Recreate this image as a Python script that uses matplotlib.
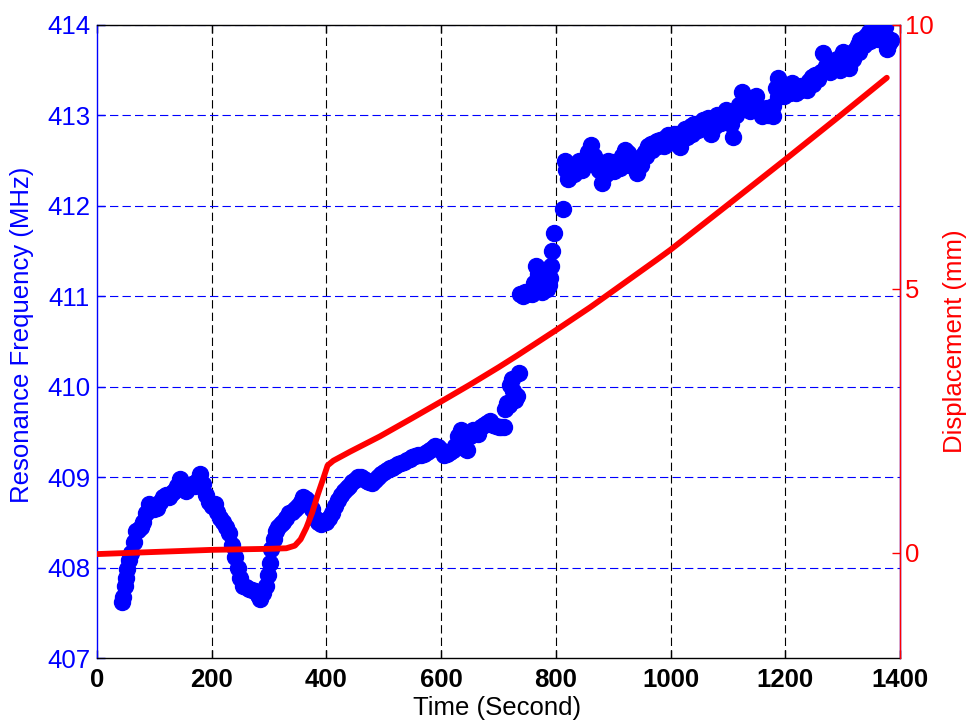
import matplotlib
matplotlib.use("Agg")
import matplotlib.pyplot as plt

plt.rcParams['font.family'] = ['Liberation Sans', 'DejaVu Sans']
plt.rcParams['lines.scale_dashes'] = False

# ---- Data ----
freq_time = [43, 45, 48, 50, 53, 56, 60, 64, 68, 72, 76, 80, 85, 90, 95, 100, 105, 110, 115, 120,
             125, 130, 135, 140, 145, 150, 155, 160, 165, 170, 175, 180, 185, 190, 195, 200, 205,
             210, 215, 220, 225, 230, 235, 240, 245, 250, 255, 260, 265, 270, 275, 280, 285, 290,
             295, 298, 301, 304, 308, 312, 316, 320, 325, 330, 335, 340, 345, 350, 355, 360, 365,
             370, 375, 380, 385, 390, 395, 400, 405, 410, 415, 420, 425, 430, 435, 440, 445, 450,
             455, 460, 465, 470, 475, 480, 485, 490, 495, 500, 505, 510, 515, 520, 525, 530, 535,
             540, 545, 550, 555, 560, 565, 570, 575, 580, 585, 590, 595, 600, 605, 610, 615, 620,
             625, 630, 635, 640, 645, 650, 655, 660, 665, 670, 675, 680, 685, 690, 695, 700, 705,
             710, 712, 715, 718, 720, 723, 726, 729, 732, 735, 738, 742, 746, 750, 754, 758, 762,
             765, 768, 772, 776, 780, 784, 788, 790, 792, 794, 796, 812, 816, 821, 826, 831, 836,
             841, 846, 851, 856, 861, 866, 871, 876, 881, 886, 891, 896, 901, 906, 911, 916, 921,
             926, 931, 936, 941, 946, 951, 956, 961, 966, 971, 976, 981, 986, 991, 996, 1001, 1006,
             1011, 1016, 1021, 1026, 1031, 1036, 1041, 1046, 1051, 1056, 1061, 1066, 1071, 1076,
             1081, 1086, 1091, 1096, 1101, 1106, 1109, 1114, 1119, 1124, 1129, 1134, 1139, 1144,
             1149, 1154, 1159, 1164, 1169, 1174, 1179, 1184, 1187, 1192, 1197, 1202, 1207, 1212,
             1217, 1222, 1227, 1232, 1237, 1242, 1247, 1252, 1257, 1262, 1266, 1271, 1276, 1281,
             1286, 1291, 1296, 1301, 1306, 1311, 1316, 1321, 1326, 1331, 1336, 1341, 1346, 1351,
             1356, 1361, 1366, 1371, 1374, 1377, 1381, 1385]

freq_mhz = [407.62, 407.68, 407.80, 407.88, 407.98, 408.08, 408.16, 408.28, 408.40, 408.42,
            408.45, 408.50, 408.60, 408.70, 408.68, 408.65, 408.66, 408.72, 408.78, 408.80,
            408.78, 408.82, 408.85, 408.90, 408.98, 408.88, 408.85, 408.90, 408.92, 408.90,
            408.96, 409.04, 408.92, 408.80, 408.72, 408.68, 408.70, 408.62, 408.55, 408.50,
            408.45, 408.38, 408.25, 408.12, 408.00, 407.88, 407.80, 407.78, 407.76, 407.75,
            407.74, 407.70, 407.65, 407.72, 407.80, 407.92, 408.05, 408.20, 408.32, 408.40,
            408.45, 408.48, 408.50, 408.55, 408.60, 408.62, 408.65, 408.68, 408.72, 408.78,
            408.76, 408.72, 408.65, 408.55, 408.50, 408.48, 408.52, 408.50, 408.55, 408.60,
            408.68, 408.75, 408.80, 408.85, 408.88, 408.90, 408.95, 408.97, 409.00, 409.00,
            408.98, 408.96, 408.95, 408.93, 408.97, 409.00, 409.03, 409.06, 409.08, 409.10,
            409.10, 409.12, 409.14, 409.16, 409.17, 409.19, 409.20, 409.22, 409.23, 409.24,
            409.25, 409.26, 409.28, 409.30, 409.32, 409.34, 409.33, 409.30, 409.24, 409.26,
            409.28, 409.30, 409.34, 409.45, 409.52, 409.32, 409.30, 409.45, 409.52, 409.50,
            409.48, 409.55, 409.58, 409.60, 409.62, 409.58, 409.57, 409.55, 409.56, 409.56,
            409.75, 409.82, 409.80, 410.02, 410.08, 409.95, 409.85, 409.90, 410.15, 411.03,
            411.00, 411.05, 411.02, 411.05, 411.03, 411.15, 411.33, 411.25, 411.10, 411.05,
            411.10, 411.08, 411.12, 411.20, 411.33, 411.50, 411.70, 411.97, 412.50, 412.30,
            412.42, 412.35, 412.45, 412.50, 412.40, 412.48, 412.60, 412.67, 412.55, 412.48,
            412.40, 412.25, 412.45, 412.50, 412.42, 412.38, 412.45, 412.42, 412.55, 412.62,
            412.58, 412.52, 412.45, 412.36, 412.50, 412.55, 412.60, 412.66, 412.68, 412.70,
            412.72, 412.73, 412.70, 412.75, 412.78, 412.76, 412.80, 412.80, 412.65, 412.78,
            412.85, 412.82, 412.88, 412.91, 412.86, 412.92, 412.95, 412.90, 412.97, 412.80,
            412.95, 413.00, 412.98, 413.02, 413.06, 413.00, 412.90, 412.76, 413.00, 413.12,
            413.26, 413.20, 413.10, 413.15, 413.18, 413.21, 413.05, 412.99, 413.02, 413.00,
            413.05, 412.99, 413.30, 413.41, 413.25, 413.30, 413.28, 413.32, 413.36, 413.30,
            413.28, 413.33, 413.30, 413.28, 413.38, 413.42, 413.45, 413.40, 413.48, 413.69,
            413.55, 413.50, 413.60, 413.55, 413.62, 413.50, 413.70, 413.62, 413.52, 413.68,
            413.72, 413.78, 413.83, 413.85, 413.88, 413.92, 413.96, 413.88, 413.85, 413.84,
            413.90, 413.98, 413.74, 413.80, 413.83]

# second row of readings filling the scatter band of the upper part
band_time = [818, 828, 838, 848, 858, 868, 878, 888, 898, 908, 918, 928, 938, 948, 958, 968,
             978, 988, 998, 1008, 1018, 1028, 1038, 1048, 1058, 1068, 1078, 1088, 1098, 1108,
             1118, 1128, 1138, 1148, 1158, 1168, 1178, 1188, 1198, 1208, 1218, 1228, 1238,
             1248, 1258, 1268, 1278, 1288, 1298, 1308, 1318, 1328, 1338, 1348, 1358, 1368, 1378]
band_mhz = [412.40, 412.38, 412.42, 412.45, 412.50, 412.45, 412.38, 412.35, 412.48, 412.50,
            412.48, 412.45, 412.52, 412.45, 412.55, 412.62, 412.66, 412.66, 412.70, 412.72,
            412.75, 412.76, 412.80, 412.84, 412.86, 412.88, 412.88, 412.92, 412.95, 412.98,
            413.05, 413.08, 413.05, 413.10, 413.08, 413.08, 413.10, 413.20, 413.22, 413.25,
            413.25, 413.28, 413.35, 413.35, 413.45, 413.50, 413.48, 413.52, 413.58, 413.55,
            413.62, 413.70, 413.78, 413.82, 413.90, 413.92, 413.86]

disp_time = [0, 50, 100, 150, 200, 250, 300, 330, 345, 355, 365, 375, 385, 395, 402, 412, 441,
             493, 550, 598, 650, 700, 732, 801, 860, 882, 976, 1000, 1095, 1200, 1292, 1377]
disp_mm = [-0.03, -0.01, 0.01, 0.03, 0.05, 0.06, 0.07, 0.08, 0.13, 0.25, 0.47, 0.75, 1.10, 1.42,
           1.65, 1.74, 1.91, 2.20, 2.55, 2.85, 3.18, 3.51, 3.73, 4.22, 4.65, 4.82, 5.55, 5.74,
           6.55, 7.45, 8.25, 9.00]

x_ticks = [0, 200, 400, 600, 800, 1000, 1200, 1400]
left_ticks = [407, 408, 409, 410, 411, 412, 413, 414]
right_ticks = [0, 5, 10]

# ---- Figure ----
W, H = 968, 721
fig = plt.figure(figsize=(W / 100, H / 100), dpi=100)
x0, x1, y0, y1 = 97, 900, 25, 658
rect = [x0 / W, (H - y1) / H, (x1 - x0) / W, (y1 - y0) / H]

ax1 = fig.add_axes(rect)
ax2 = fig.add_axes(rect, sharex=ax1)
ax2.patch.set_visible(False)

dash = (0, (6, 3))

# grid
for xt in x_ticks[1:-1]:
    ax1.axvline(xt, color='black', lw=0.8, ls=dash, zorder=0)
for yt in left_ticks[1:]:
    ax1.axhline(yt, color='blue', lw=0.8, ls=dash, zorder=0)

ax1.plot(band_time, band_mhz, 'o', ms=11.5, color='blue', mec='blue', zorder=3)
ax1.plot(freq_time, freq_mhz, 'o', ms=11.5, color='blue', mec='blue', zorder=3)
ax2.plot(disp_time, disp_mm, '-', lw=4.2, color='red', solid_capstyle='round',
         solid_joinstyle='round', zorder=3)

ax1.set_xlim(0, 1400)
ax1.set_ylim(407, 414)
ax2.set_ylim(-2, 10)
ax1.set_xticks(x_ticks)
ax1.set_yticks(left_ticks)
ax2.set_yticks(right_ticks)

FS = 18.5
ax1.tick_params(axis='x', direction='in', length=6, width=1, top=True, colors='black',
                labelsize=FS, pad=7)
ax1.tick_params(axis='y', direction='in', length=6, width=1, colors='blue', labelsize=FS, pad=5)
ax2.tick_params(axis='y', direction='in', length=6, width=1, colors='red', labelsize=FS, pad=3.5,
                left=False, right=True, labelleft=False, labelright=True)
ax2.tick_params(axis='x', which='both', bottom=False, top=False, labelbottom=False)
for lab in ax1.get_xticklabels():
    lab.set_fontweight('bold')

ax1.spines['left'].set_color('blue')
ax1.spines['right'].set_color('blue')
ax1.spines['bottom'].set_color('black')
ax1.spines['top'].set_color('black')
for s in ['left', 'top', 'bottom']:
    ax2.spines[s].set_visible(False)
ax2.spines['right'].set_color('red')
for sp in list(ax1.spines.values()) + list(ax2.spines.values()):
    sp.set_linewidth(1.0)

fig.text(22 / W, 1 - 335 / H, 'Resonance Frequency (MHz)', rotation=90, ha='center',
         va='center', color='blue', fontsize=FS)
fig.text(955 / W, 1 - 341 / H, 'Displacement (mm)', rotation=90, ha='center', va='center',
         color='red', fontsize=FS)
fig.text(497 / W, 1 - 708 / H, 'Time (Second)', ha='center', va='center', color='black',
         fontsize=FS)

fig.savefig('out.png', dpi=100)
